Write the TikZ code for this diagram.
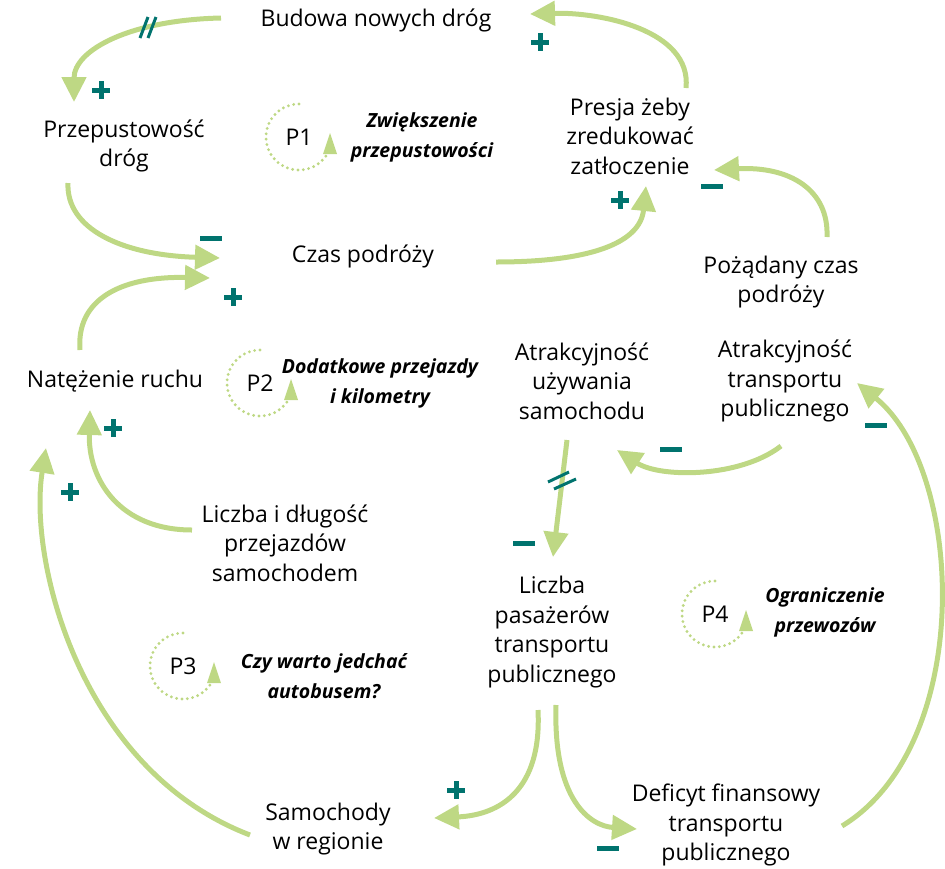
\documentclass[tikz,border=0pt]{standalone}
\usepackage{fontspec}
\setmainfont{Open Sans}
\usetikzlibrary{arrows.meta}
\definecolor{lgreen}{RGB}{190,216,132}
\definecolor{tealsign}{RGB}{0,115,110}
\newcommand\loopmark[4]{%
  \draw[lgreen, line width=3.2pt, dash pattern=on 0pt off 5.4pt, line cap=round]
    (#1,#2) ++(-90:33) arc[start angle=-90,end angle=-326,radius=33];
  \fill[lgreen] ({#1+31},{#2-4}) -- ({#1+38},{#2+17}) -- ({#1+24},{#2+17}) -- cycle;
  \node[lbl] (#3) at (#1,#2) {#4};
}
\newcommand\plussign[2]{%
  \fill[tealsign] ({#1-9},{#2-2.5}) rectangle ({#1+9},{#2+2.5});
  \fill[tealsign] ({#1-2.5},{#2-9}) rectangle ({#1+2.5},{#2+9});
}
\newcommand\minussign[2]{%
  \fill[tealsign] ({#1-11},{#2-2.5}) rectangle ({#1+11},{#2+2.5});
}
\begin{document}
\begin{tikzpicture}[x=1pt,y=-1pt,
  lbl/.style={align=center, font=\fontsize{23}{29.5}\selectfont, inner sep=0pt},
  loopname/.style={align=center, font=\bfseries\itshape\fontsize{19.5}{30}\selectfont, inner sep=0pt},
  conn/.style={draw=lgreen, line width=5pt, -{Triangle[length=25pt,width=24pt]}}]
\useasboundingbox (0,0) rectangle (945,868);

% nodes
\node[lbl] (budowa) at (376,20) {Budowa nowych dróg};
\node[lbl] (przep) at (124,146) {Przepustowość\\dróg};
\node[lbl] (presja) at (630,136) {Presja żeby\\zredukować\\zatłoczenie};
\node[lbl] (czas) at (363,256) {Czas podróży};
\node[lbl] (pozad) at (781,282) {Pożądany czas\\podróży};
\node[lbl] (natez) at (115,381) {Natężenie ruchu};
\node[lbl] (atrs) at (582,381) {Atrakcyjność\\używania\\samochodu};
\node[lbl] (atrt) at (785,381) {Atrakcyjność\\transportu\\publicznego};
\node[lbl] (liczba) at (285,543) {Liczba i długość\\przejazdów\\samochodem};
\node[lbl] (pasaz) at (552,632) {Liczba\\pasażerów\\transportu\\publicznego};
\node[lbl] (samoch) at (328,829) {Samochody\\w regionie};
\node[lbl] (deficyt) at (726,825) {Deficyt finansowy\\transportu\\publicznego};

% loop markers
\loopmark{299}{137}{p1}{P1}
\node[loopname] (p1n) at (422,137) {Zwiększenie\\przepustowości};
\loopmark{260}{383}{p2}{P2}
\node[loopname] (p2n) at (380,383) {Dodatkowe przejazdy\\i kilometry};
\loopmark{183}{666}{p3}{P3}
\node[loopname] (p3n) at (324,676) {Czy warto jedchać\\autobusem?};
\loopmark{715}{614}{p4}{P4}
\node[loopname] (p4n) at (825,612) {Ograniczenie\\przewozów};

% connector end points
\coordinate (c1s) at (221,18);   \coordinate (c1e) at (74,102);
\coordinate (c2s) at (68,183);   \coordinate (c2e) at (220,258);
\coordinate (c3s) at (80,350);   \coordinate (c3e) at (210,278);
\coordinate (c4s) at (496,262);  \coordinate (c4e) at (646,186);
\coordinate (c5s) at (686,88);   \coordinate (c5e) at (530,14);
\coordinate (c6s) at (827,237);  \coordinate (c6e) at (714,170);
\coordinate (c7s) at (781,446);  \coordinate (c7e) at (617,450);
\coordinate (c8s) at (567,440);  \coordinate (c8e) at (553,557);
\coordinate (c9s) at (192,530);  \coordinate (c9e) at (90,410);
\coordinate (c10s) at (250,835); \coordinate (c10e) at (46,448);
\coordinate (c11s) at (538,710); \coordinate (c11e) at (434,818);
\coordinate (c12s) at (556,705); \coordinate (c12e) at (637,829);
\coordinate (c13s) at (842,826); \coordinate (c13e) at (857,383);

% connectors
\draw[conn] (c1s) .. controls (130,20) and (74,50) .. (c1e);
\draw[conn] (c2s) .. controls (66,228) and (120,255) .. (c2e);
\draw[conn] (c3s) .. controls (76,300) and (120,276) .. (c3e);
\draw[conn] (c4s) .. controls (585,262) and (640,245) .. (c4e);
\draw[conn] (c5s) .. controls (692,30) and (600,12) .. (c5e);
\draw[conn] (c6s) .. controls (829,190) and (790,166) .. (c6e);
\draw[conn] (c7s) .. controls (740,478) and (660,478) .. (c7e);
\draw[conn] (c8s) -- (c8e);
\draw[conn] (c9s) .. controls (120,530) and (88,480) .. (c9e);
\draw[conn] (c10s) .. controls (80,770) and (28,560) .. (c10e);
\draw[conn] (c11s) .. controls (542,790) and (500,815) .. (c11e);
\draw[conn] (c12s) .. controls (553,800) and (590,826) .. (c12e);
\draw[conn] (c13s) .. controls (975,745) and (965,470) .. (c13e);

% delay marks
\draw[tealsign, line width=3pt] (140,38) -- (148,17);
\draw[tealsign, line width=3pt] (148,38) -- (156,17);
\draw[tealsign, line width=3pt] (548,482) -- (569,472);
\draw[tealsign, line width=3pt] (554,489) -- (576,479);

% polarity signs
\plussign{101}{90}
\plussign{540}{42}
\plussign{620}{200}
\plussign{233}{297}
\plussign{113}{428}
\plussign{70}{492}
\plussign{456}{790}
\minussign{211}{238}
\minussign{712}{186}
\minussign{671}{449}
\minussign{524}{543}
\minussign{608}{848}
\minussign{876}{425}
\end{tikzpicture}
\end{document}
